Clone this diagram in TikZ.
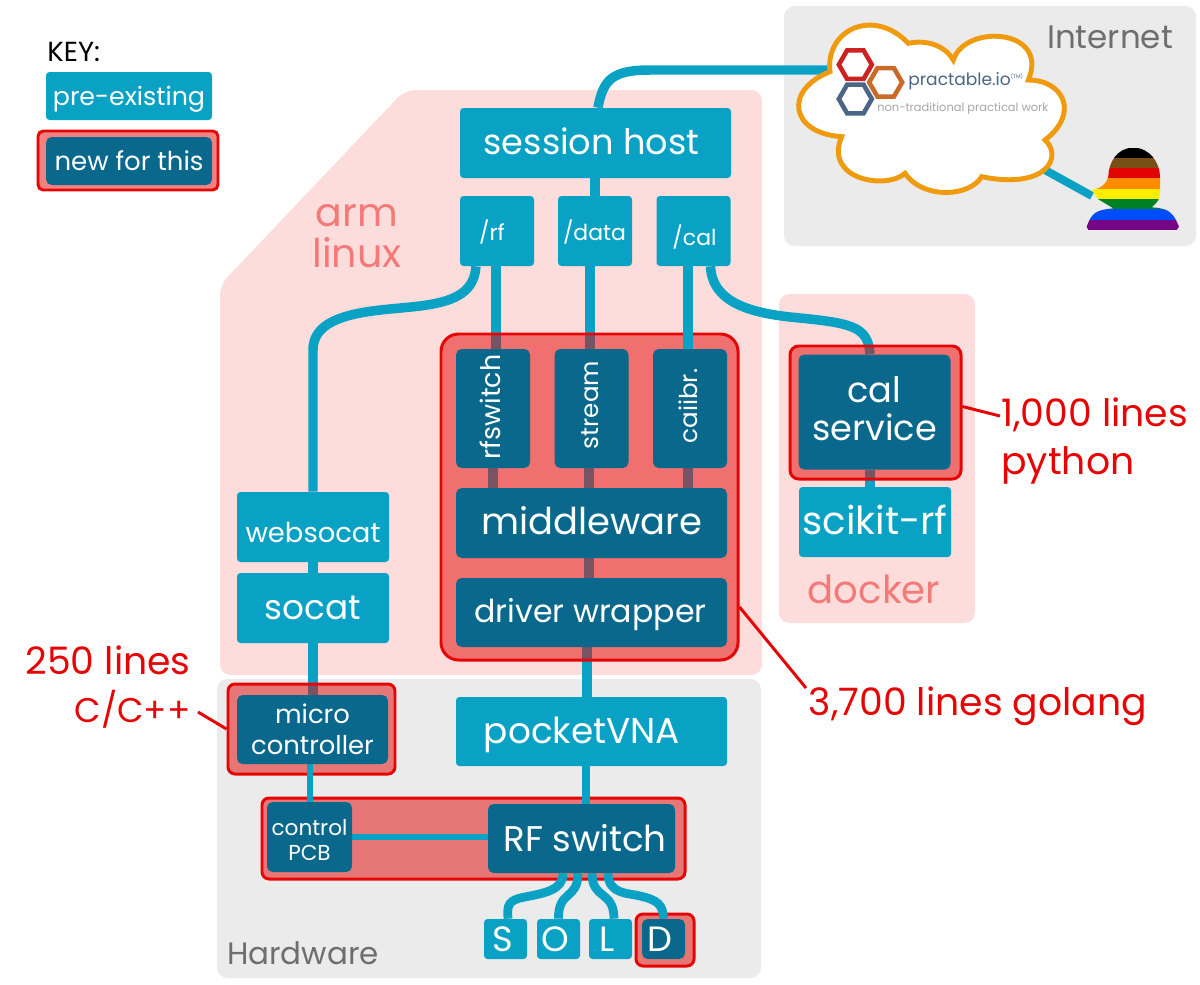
\documentclass[tikz,border=0pt]{standalone}
\usepackage{fontspec}
\setmainfont{Poppins}
\usetikzlibrary{shapes.geometric}

\definecolor{oldblue}{HTML}{0AA2C4}
\definecolor{newblue}{HTML}{0A688C}
\definecolor{newred}{HTML}{E50505}
\definecolor{pinkbg}{HTML}{FDDCDC}
\definecolor{greybg}{HTML}{EBEBEB}
\definecolor{salmon}{HTML}{F47A7A}
\definecolor{greytxt}{HTML}{6E6E6E}
\definecolor{cloudline}{HTML}{F09A0D}
\definecolor{hexred}{HTML}{CC2222}
\definecolor{hexorange}{HTML}{C96A28}
\definecolor{hexblue}{HTML}{4A6585}

\newcommand{\fsz}[2]{\fontsize{#1}{#2}\selectfont}

\begin{document}
\begin{tikzpicture}[x=0.02cm, y=-0.02cm]
    \tikzset{sz/.style 2 args={minimum width=#1*0.02cm, minimum height=#2*0.02cm,
      inner sep=0pt}}
    \tikzset{oldbox/.style={fill=oldblue, rounded corners=2pt}}
    \tikzset{newbox/.style={fill=newblue, rounded corners=3.2pt}}
    \tikzset{boxtxt/.style={text=white, align=center, inner sep=0pt}}
    \tikzset{panel/.style={fill=newred, fill opacity=0.5, draw=newred,
      line width=1.7pt, rounded corners=#1}}
    \tikzset{region/.style={fill=#1, rounded corners=6pt}}
    \tikzset{link/.style={draw=oldblue, line width=5.4pt}}
    \tikzset{thinlink/.style={draw=oldblue, line width=2.9pt}}
    \tikzset{leader/.style={draw=newred, line width=1.7pt}}
    \tikzset{redtxt/.style={text=newred, inner sep=0pt, font=\fsz{21.5}{27.5}}}

    \useasboundingbox (0, 0) rectangle (1200, 984);

    % Regions
    \fill [region=pinkbg] (220, 675) -- (220, 285) -- (405, 90) -- (762, 90)
          -- (762, 675) -- cycle;
    \node [sz={196}{329}, region=pinkbg] (dockerbg) at (877, 458.5) {};
    \node [sz={544}{299}, region=greybg] (hardwarebg) at (489, 828.5) {};
    \node [sz={412}{240}, region=greybg] (internetbg) at (990, 126) {};

    \node [text=salmon, align=center, font=\fsz{22.5}{23}] (armlabel) at (357, 236) {arm\\linux};
    \node [text=salmon, font=\fsz{22}{25}] (dockerlabel) at (874, 589) {docker};
    \node [text=greytxt, font=\fsz{17.6}{20}] (hardwarelabel) at (303, 953) {Hardware};
    \node [text=greytxt, font=\fsz{18.5}{20}] (internetlabel) at (1110, 37) {Internet};

    % Key
    \node [anchor=west, inner sep=0pt, font=\fsz{15.7}{16}] (keylabel) at (47, 52) {KEY:};
    \node [sz={166}{48}, oldbox] (keyold) at (129, 96) {};
    \node [sz={180}{59}, panel=3pt] (keypanel) at (128, 160.5) {};
    \node [sz={166}{48}, newbox] (keynew) at (129, 161) {};

    % Positions of the boxes, so that the links can be drawn from them
    \foreach \n/\x/\y/\w/\h in {session/595.5/143/271/70, rf/497/231/74/70, data/595/231/74/70,
                                cal/693.5/231/74/70, rfswitch/493/408.5/74/119,
                                stream/591.5/408.5/74/119, calibr/690/408.5/74/119,
                                middle/591.5/523/271/70, driver/591.5/612.5/271/69,
                                websocat/313/527/152/70, socat/313/608/152/70,
                                calsvc/874.5/412/152/115, scikit/875/522/152/70,
                                micro/312.5/729.5/151/69, vna/591.5/731.5/271/69,
                                pcb/309.5/837/85/70, rfsw/581.5/838.5/187/69,
                                sport/505.5/939/43/40, oport/558.5/939/43/40,
                                lport/610.5/939/43/40, dport/663.5/939/43/40} {
      \path (\x, \y) node [sz={\w}{\h}] (\n) {};
    }
    \coordinate (cloudin) at (840, 70);
    \coordinate (cloudout) at (1045, 170);
    \coordinate (personin) at (1092, 196);

    % Links that the red panels lie over
    \draw [link] ([xshift=0.05cm]session.north) .. controls (603, 80) and (612, 70) .. (650, 70)
          -- (cloudin);
    \draw [link] (session.south -| data.north) -- (data.north);
    \draw [link] ([xshift=-0.42cm]rf.south) .. controls (474, 295) and (450, 302) .. (420, 306)
          .. controls (380, 311) and (313, 310) .. (313, 350) -- (websocat.north);
    \draw [link] (rf.south -| 496, 0) -- (rfswitch.north -| 496, 0);
    \draw [link] (data.south -| 590, 0) -- (stream.north -| 590, 0);
    \draw [link] ([xshift=0.34cm]cal.south) .. controls (712, 300) and (745, 312) .. (790, 317)
          .. controls (850, 323) and (868, 325) .. (calsvc.north -| 870, 0);
    \foreach \n/\x in {rfswitch/493, stream/589, calibr/688} {
      \draw [link] (\n.south -| \x, 0) -- (middle.north -| \x, 0);
    }
    \draw [link] (middle.south -| 589, 0) -- (driver.north -| 589, 0);
    \draw [link] (websocat) -- (socat);
    \draw [link] (socat) -- (micro.north -| socat.south);
    \draw [link] (calsvc.south -| 870, 0) -- (scikit.north -| 870, 0);
    \draw [link] (driver.south -| 587, 0) -- (vna.north -| 587, 0);

    % Red panels
    \node [sz={297}{326}, panel=10pt] (mainpanel) at (589.5, 497) {};
    \node [sz={171}{133}, panel=5pt] (calpanel) at (875.5, 412.5) {};
    \node [sz={167}{90}, panel=4pt] (micropanel) at (311.5, 729) {};
    \node [sz={423}{81}, panel=4pt] (switchpanel) at (473.5, 838.5) {};
    \node [sz={58}{52}, panel=4pt] (dpanel) at (665, 940) {};

    % Links on top of the panels
    \draw [link] (cal.south -| 688, 0) -- (calibr.north -| 688, 0);
    \draw [thinlink] (micro.south -| 310, 0) -- (pcb.north -| 310, 0);
    \draw [link, line width=5pt] (vna.south -| 586, 0) -- (rfsw.north -| 586, 0);
    \draw [thinlink] (pcb.east) -- (pcb.east -| rfsw.west);
    \draw [link, line width=5pt] (rfsw.south -| 563, 0) .. controls (563, 890) and (545, 893) .. (525, 897)
          .. controls (508, 900) and (507, 905) .. (sport.north -| 508, 0);
    \draw [link, line width=5pt] (rfsw.south -| 578, 0) .. controls (578, 900) and (558, 890) .. (oport.north);
    \draw [link, line width=5pt] (rfsw.south -| 592, 0) .. controls (592, 900) and (614, 890) .. (lport.north -| 614, 0);
    \draw [link, line width=5pt] (rfsw.south -| 608, 0) .. controls (608, 895) and (630, 893) .. (640, 896)
          .. controls (658, 900) and (663, 905) .. (dport.north);

    % Boxes
    \foreach \n/\w/\h in {session/271/70, rf/74/70, data/74/70, cal/74/70, websocat/152/70,
                          socat/152/70, scikit/152/70, vna/271/69, sport/43/40, oport/43/40,
                          lport/43/40} {
      \node [sz={\w}{\h}, oldbox] (\n box) at (\n) {};
    }
    \foreach \n/\w/\h in {rfswitch/74/119, stream/74/119, calibr/74/119, middle/271/70,
                          driver/271/69, calsvc/152/115, micro/151/69, pcb/85/70,
                          rfsw/187/69, dport/43/40} {
      \node [sz={\w}{\h}, newbox] (\n box) at (\n) {};
    }

    % Box texts
    \foreach \n/\x/\y/\s/\b/\l in {keyold/129/99/14.4/16/pre-existing,
                                   keynew/129/161/14.8/16/new for this,
                                   session/591.5/141/20/22/session host,
                                   rf/492/232/12.5/14/{/rf},
                                   data/594.5/232/12.5/14/{/data},
                                   cal/694.5/237/12.5/14/{/cal},
                                   middle/591.5/521/21/24/middleware,
                                   driver/590.5/614.5/18/20/driver wrapper,
                                   websocat/313/532/15.6/19/websocat,
                                   socat/313/608/19.5/22/socat,
                                   calsvc/874.5/409/20/21.6/{cal\\service},
                                   scikit/875/520/22/22/scikit-rf,
                                   micro/312.5/729.5/14.7/17.6/{micro\\controller},
                                   vna/582/734.5/20.4/24/pocketVNA,
                                   pcb/309.5/840/12.3/14.2/{control\\PCB},
                                   rfsw/585/838.5/20.3/22/RF switch,
                                   sport/502.5/939/20/20/S,
                                   oport/555/939/20/20/O,
                                   lport/607/939/20/20/L,
                                   dport/660/939/20/20/D} {
      \node [boxtxt, font=\fsz{\s}{\b}] (\n txt) at (\x, \y) {\l};
    }
    \foreach \n/\x/\y/\s/\l in {rfswitch/490/407/15.3/rfswitch, stream/590/405/14/stream,
                                calibr/688/406/14/caiibr.} {
      \node [boxtxt, rotate=90, font=\fsz{\s}{18}] (\n txt) at (\x, \y) {\l};
    }

    % Internet
    \draw [link, line width=4.6pt] (cloudout) -- (personin);
    \begin{scope}[shift={(780, 0)}, scale=1/3]
      \draw [fill=white, draw=cloudline, line width=2.8pt]
        (150, 215) .. controls (135, 90) and (280, 20) .. (385, 130)
        .. controls (430, 120) and (490, 130) .. (520, 180)
        .. controls (555, 70) and (810, 85) .. (745, 240)
        .. controls (850, 240) and (900, 340) .. (795, 420)
        .. controls (850, 470) and (800, 570) .. (605, 530)
        .. controls (570, 590) and (430, 600) .. (375, 520)
        .. controls (320, 570) and (130, 540) .. (185, 410)
        .. controls (30, 400) and (10, 270) .. (150, 215) -- cycle;
      \foreach \c/\x/\y in {hexred/226/194, hexorange/317/247, hexblue/226/297} {
        \node [regular polygon, regular polygon sides=6, draw=\c, line width=2.6pt,
               minimum size=0.66cm, inner sep=0pt] (\c) at (\x, \y) {};
      }
      \begin{scope}
        \clip (1060, 443) .. controls (1110, 443) and (1140, 490) .. (1140, 530)
          -- (1140, 585) .. controls (1135, 610) and (1120, 615) .. (1115, 622)
          .. controls (1170, 625) and (1180, 640) .. (1197, 680) -- (1190, 690) -- (925, 690)
          -- (920, 680) .. controls (935, 640) and (945, 630) .. (1000, 625)
          -- (975, 610) -- (955, 598) -- (935, 570) .. controls (965, 565) and (980, 550) .. (985, 530)
          .. controls (985, 490) and (1010, 443) .. (1060, 443) -- cycle;
        \foreach \c/\a/\b in {000000/443/473, 784F17/473/503, E40303/503/535, FF8C00/535/567,
                              FFED00/567/597, 008026/597/627, 004DFF/627/659, 750787/659/690} {
          \definecolor{stripe}{HTML}{\c}
          \fill [stripe] (900, \a) rectangle (1210, \b);
        }
      \end{scope}
    \end{scope}
    \node [anchor=west, text=hexblue, font=\fsz{9.7}{12}, inner sep=0pt] (practable) at (908, 81)
          {practable.io\textsuperscript{\fsz{3}{4}(TM)}};
    \node [anchor=west, text=black!35, font=\fsz{6.5}{9}, inner sep=0pt] (tagline) at (877, 109)
          {non-traditional practical work};

    % Counts
    \node [redtxt, anchor=west, align=left] (calcount) at (1001, 441) {1,000 lines\\python};
    \node [redtxt, anchor=east, align=right] (microcount) at (191, 687)
          {250 lines\\{\fsz{19.5}{27.5}C/C++}};
    \node [redtxt] (maincount) at (978, 706) {3,700 lines golang};
    \coordinate (calend) at (1000, 416);
    \coordinate (mainend) at (806, 688);
    \coordinate (microend) at (198, 712);
    \draw [leader] ([yshift=0.12cm]calpanel.east) -- (calend);
    \draw [leader] ([yshift=-2.2cm]mainpanel.east) -- (mainend);
    \draw [leader] (microend) -- (micropanel.west);
\end{tikzpicture}
\end{document}
